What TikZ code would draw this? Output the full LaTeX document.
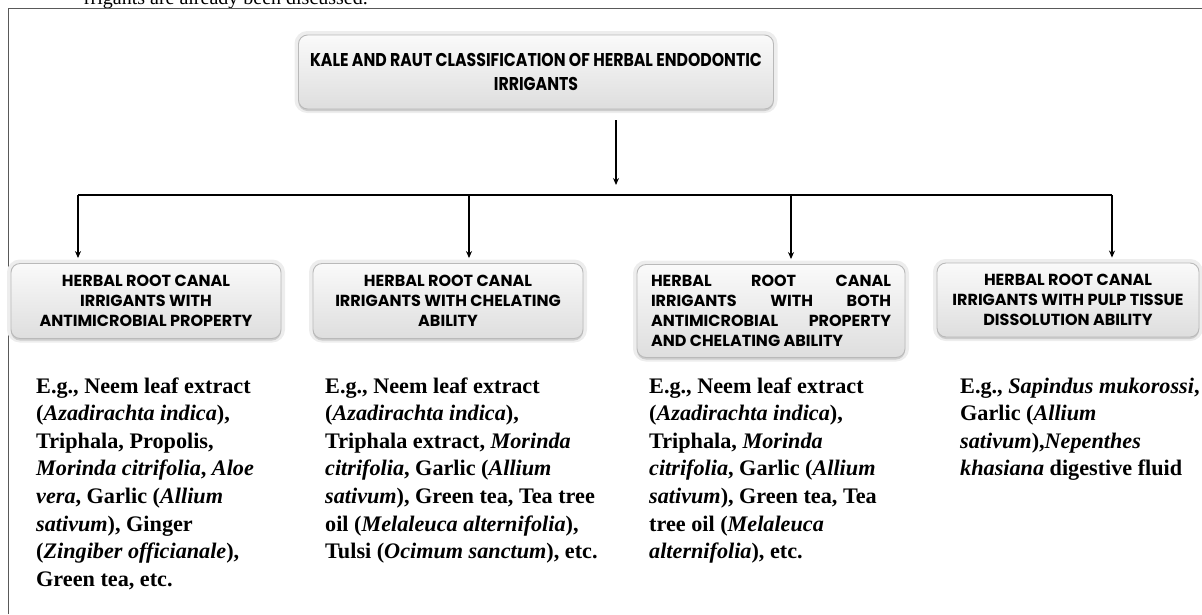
\documentclass[tikz,border=0pt]{standalone}
\usepackage{fontspec}
\setmainfont{Liberation Serif}
\newfontfamily\hdr{Poppins}
\newfontfamily\hdrc[FakeStretch=0.85]{Poppins}
\usetikzlibrary{arrows.meta,shadows}
\begin{document}
\begin{tikzpicture}[x=1pt,y=-1pt,
  hbox/.style={rounded corners=9pt, draw=gray!55, line width=0.9pt,
    top color=gray!4, bottom color=gray!26,
    preaction={draw=gray!14, line width=8pt},
    drop shadow={opacity=0.3, shadow xshift=0pt, shadow yshift=-2pt},
    align=center, inner sep=0pt, font=\hdr\bfseries\fontsize{16}{20}\selectfont},
  arr/.style={line width=1.4pt, -{Stealth[length=7pt,width=6pt]}},
  conn/.style={line width=1.4pt},
  body/.style={anchor=base west, inner sep=0pt, font=\bfseries\fontsize{22.2}{27.6}\selectfont}
]
\useasboundingbox (0,0) rectangle (1202,614);
% cropped line of text above the frame
\node[anchor=base east, inner sep=0pt, font=\fontsize{20}{24}\selectfont] (cut) at (368,4) {rrigants are already been discussed.};
% frame
\coordinate (fa) at (8,614);
\coordinate (fb) at (8,8);
\coordinate (fc) at (1202,8);
\draw[gray!70!black, line width=1pt] (fa) -- (fb) -- (fc);

% title
\node[hbox, minimum width=475pt, minimum height=74pt, font=\hdrc\bfseries\fontsize{18.5}{24}\selectfont] (title) at (536,72)
  {KALE AND RAUT CLASSIFICATION OF HERBAL ENDODONTIC\\IRRIGANTS};

% category boxes
\node[hbox, minimum width=270pt, minimum height=75pt] (b1) at (146,301)
  {HERBAL ROOT CANAL\\IRRIGANTS WITH\\ANTIMICROBIAL PROPERTY};
\node[hbox, minimum width=270pt, minimum height=75pt] (b2) at (448,301)
  {HERBAL ROOT CANAL\\IRRIGANTS WITH CHELATING\\ABILITY};
\node[hbox, minimum width=268pt, minimum height=93pt, align=left] (b3) at (771,311)
  {\makebox[240pt][s]{HERBAL ROOT CANAL}\\\makebox[240pt][s]{IRRIGANTS WITH BOTH}\\\makebox[240pt][s]{ANTIMICROBIAL PROPERTY}\\\makebox[240pt][l]{AND CHELATING ABILITY}};
\node[hbox, minimum width=262pt, minimum height=74pt] (b4) at (1068,300)
  {HERBAL ROOT CANAL\\IRRIGANTS WITH PULP TISSUE\\DISSOLUTION ABILITY};

% connectors
\coordinate (t0) at (616,120);
\coordinate (t1) at (616,185);
\coordinate (h1) at (78,195);
\coordinate (h2) at (469,195);
\coordinate (h3) at (791,195);
\coordinate (h4) at (1112,195);
\draw[arr] (t0) -- (t1);
\draw[conn] (h1) -- (h4);
\draw[arr] (h1) -- ([yshift=5pt]h1 |- b1.north);
\draw[arr] (h2) -- ([yshift=5pt]h2 |- b2.north);
\draw[arr] (h3) -- ([yshift=5pt]h3 |- b3.north);
\draw[arr] (h4) -- ([yshift=5pt]h4 |- b4.north);

% example texts
\node[body] (e1) at (36,393) {\parbox[t]{260pt}{\raggedright
E.g., Neem leaf extract\\
(\textit{Azadirachta indica}),\\
Triphala, Propolis,\\
\textit{Morinda citrifolia}, \textit{Aloe}\\
\textit{vera}, Garlic (\textit{Allium}\\
\textit{sativum}), Ginger\\
(\textit{Zingiber officianale}),\\
Green tea, etc.}};
\node[body] (e2) at (325,393) {\parbox[t]{280pt}{\raggedright
E.g., Neem leaf extract\\
(\textit{Azadirachta indica}),\\
Triphala extract, \textit{Morinda}\\
\textit{citrifolia}, Garlic (\textit{Allium}\\
\textit{sativum}), Green tea, Tea tree\\
oil (\textit{Melaleuca alternifolia}),\\
Tulsi (\textit{Ocimum sanctum}), etc.}};
\node[body] (e3) at (649,393) {\parbox[t]{260pt}{\raggedright
E.g., Neem leaf extract\\
(\textit{Azadirachta indica}),\\
Triphala, \textit{Morinda}\\
\textit{citrifolia}, Garlic (\textit{Allium}\\
\textit{sativum}), Green tea, Tea\\
tree oil (\textit{Melaleuca}\\
\textit{alternifolia}), etc.}};
\node[body] (e4) at (960,393) {\parbox[t]{240pt}{\raggedright
E.g., \textit{Sapindus mukorossi},\\
Garlic (\textit{Allium}\\
\textit{sativum}),\textit{Nepenthes}\\
\textit{khasiana} digestive fluid}};
\end{tikzpicture}
\end{document}
